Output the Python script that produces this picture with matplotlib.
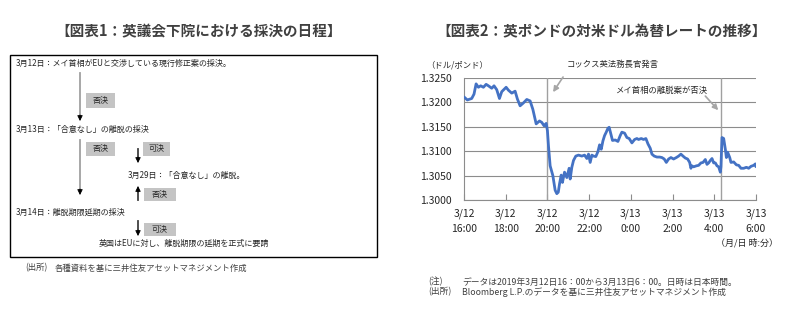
import matplotlib
matplotlib.use("Agg")
import matplotlib.pyplot as plt
from matplotlib.patches import Rectangle

plt.rcParams["font.family"] = ["Noto Sans CJK JP", "DejaVu Sans"]

# hours after 3/12 16:00 (JST) and GBP/USD rate
hours = [0.03, 0.16, 0.37, 0.48, 0.58, 0.69, 0.80, 0.93, 1.06, 1.17, 1.33, 1.44,
         1.57, 1.70, 1.81, 2.02, 2.13, 2.29, 2.45, 2.56, 2.69, 2.85, 3.01, 3.17,
         3.30, 3.46, 3.62, 3.73, 3.84, 3.94, 4.00, 4.05, 4.13, 4.26, 4.37, 4.45,
         4.52, 4.58, 4.66, 4.72, 4.82, 4.93, 5.04, 5.09, 5.17, 5.25, 5.36, 5.49,
         5.65, 5.78, 5.89, 5.97, 6.05, 6.13, 6.21, 6.32, 6.42, 6.50, 6.58, 6.66,
         6.74, 6.82, 6.90, 6.96, 7.06, 7.12, 7.25, 7.38, 7.49, 7.57, 7.70, 7.81,
         7.92, 8.05, 8.18, 8.29, 8.37, 8.50, 8.61, 8.72, 8.82, 8.93, 9.01, 9.12,
         9.25, 9.38, 9.49, 9.60, 9.70, 9.81, 9.92, 10.05, 10.18, 10.29, 10.40, 10.50,
         10.61, 10.72, 10.82, 10.88, 10.93, 11.01, 11.14, 11.25, 11.36, 11.46, 11.57,
         11.65, 11.73, 11.81, 11.89, 11.97, 12.05, 12.13, 12.21, 12.29, 12.32, 12.37,
         12.45, 12.53, 12.58, 12.64, 12.74, 12.80, 12.93, 13.06, 13.17, 13.28, 13.41,
         13.54, 13.65, 13.76, 13.89, 13.97, 14.00]
rate = [1.3210, 1.3205, 1.3208, 1.3217, 1.3238, 1.3231, 1.3234, 1.3231, 1.3237, 1.3234,
        1.3229, 1.3234, 1.3226, 1.3208, 1.3222, 1.3231, 1.3225, 1.3219, 1.3223, 1.3207,
        1.3193, 1.3199, 1.3206, 1.3203, 1.3186, 1.3156, 1.3162, 1.3159, 1.3152, 1.3157,
        1.3142, 1.3111, 1.3070, 1.3050, 1.3020, 1.3013, 1.3016, 1.3033, 1.3051, 1.3036,
        1.3057, 1.3046, 1.3065, 1.3043, 1.3067, 1.3081, 1.3090, 1.3092, 1.3090, 1.3092,
        1.3085, 1.3094, 1.3077, 1.3092, 1.3090, 1.3089, 1.3099, 1.3113, 1.3104, 1.3121,
        1.3132, 1.3139, 1.3147, 1.3149, 1.3132, 1.3122, 1.3123, 1.3120, 1.3132, 1.3139,
        1.3137, 1.3128, 1.3126, 1.3117, 1.3124, 1.3126, 1.3124, 1.3126, 1.3124, 1.3126,
        1.3115, 1.3106, 1.3094, 1.3090, 1.3088, 1.3088, 1.3087, 1.3084, 1.3077, 1.3084,
        1.3087, 1.3084, 1.3087, 1.3090, 1.3094, 1.3090, 1.3086, 1.3084, 1.3077, 1.3065,
        1.3070, 1.3068, 1.3070, 1.3071, 1.3076, 1.3077, 1.3083, 1.3073, 1.3076, 1.3081,
        1.3085, 1.3076, 1.3076, 1.3070, 1.3068, 1.3057, 1.3068, 1.3128, 1.3126, 1.3104,
        1.3087, 1.3098, 1.3087, 1.3077, 1.3078, 1.3072, 1.3071, 1.3065, 1.3065, 1.3067,
        1.3065, 1.3069, 1.3071, 1.3074, 1.3069]

x_ticks = [0, 2, 4, 6, 8, 10, 12, 14]
x_labels = ["3/12\n16:00", "3/12\n18:00", "3/12\n20:00", "3/12\n22:00",
            "3/13\n0:00", "3/13\n2:00", "3/13\n4:00", "3/13\n6:00"]
y_ticks = [1.3000, 1.3050, 1.3100, 1.3150, 1.3200, 1.3250]
events = [4.0, 12.32]

txt = "#262626"
fig = plt.figure(figsize=(7.92, 3.12), dpi=100)

# overlay in pixel coords for the diagram and notes
lay = fig.add_axes([0, 0, 1, 1])
lay.set_xlim(0, 792)
lay.set_ylim(312, 0)
lay.axis("off")

lay.text(199, 31, "【図表1：英議会下院における採決の日程】", ha="center", va="center",
         fontsize=10.5, fontweight="bold", color="#404040")
lay.text(602, 31, "【図表2：英ポンドの対米ドル為替レートの推移】", ha="center", va="center",
         fontsize=10.5, fontweight="bold", color="#404040")

lay.add_patch(Rectangle((10, 55), 367, 202, fill=False, ec="black", lw=1))

fs = 5.8
lay.text(16, 63, "3月12日：メイ首相がEUと交渉している現行修正案の採決。", fontsize=fs, color=txt, va="center")
lay.text(16, 129, "3月13日：「合意なし」の離脱の採決", fontsize=fs, color=txt, va="center")
lay.text(128, 175, "3月29日：「合意なし」の離脱。", fontsize=fs, color=txt, va="center")
lay.text(16, 212, "3月14日：離脱期限延期の採決", fontsize=fs, color=txt, va="center")
lay.text(99, 243, "英国はEUに対し、離脱期限の延期を正式に要請", fontsize=fs, color=txt, va="center")

for x0, y0, w, h, s in [(86, 93, 29, 15, "否決"), (86, 142, 29, 14, "否決"),
                        (143, 142, 27, 14, "可決"), (144, 188, 32, 13, "否決"),
                        (144, 223, 32, 13, "可決")]:
    lay.add_patch(Rectangle((x0, y0), w, h, fc="#c4c4c4", ec="none"))
    lay.text(x0 + w / 2, y0 + h / 2, s, ha="center", va="center", fontsize=fs, color=txt)


def arrow(x, y0, y1, shaft="#a0a0a0"):
    d = 1 if y1 > y0 else -1
    lay.plot([x, x], [y0, y1 - 3 * d], color=shaft, lw=1.3)
    lay.annotate("", xy=(x, y1), xytext=(x, y1 - 6 * d),
                 arrowprops=dict(arrowstyle="-|>", color="black", lw=0.6,
                                 mutation_scale=8, shrinkA=0, shrinkB=0))


arrow(80, 73, 121)
arrow(80, 140, 195)
arrow(138, 149, 163, shaft="#404040")
arrow(138, 200, 186, shaft="#404040")
arrow(138, 221, 236, shaft="#404040")

lay.text(25, 268, "(出所)", fontsize=6, color="#404040", va="center")
lay.text(55, 268, "各種資料を基に三井住友アセットマネジメント作成", fontsize=6, color="#404040", va="center")

lay.text(426, 65, "（ドル/ポンド）", fontsize=6, color=txt, va="center")
lay.text(778, 243, "（月/日 時:分）", fontsize=6.5, color=txt, va="center", ha="right")
lay.text(428, 282, "(注)", fontsize=6.3, color="#404040", va="center")
lay.text(462, 282, "データは2019年3月12日16：00から3月13日6：00。日時は日本時間。",
         fontsize=6.3, color="#404040", va="center")
lay.text(428, 292, "(出所)", fontsize=6.3, color="#404040", va="center")
lay.text(462, 292, "Bloomberg L.P.のデータを基に三井住友アセットマネジメント作成",
         fontsize=6.3, color="#404040", va="center")

# line chart
ax = fig.add_axes([464 / 792, 112 / 312, 292 / 792, 122 / 312])
ax.plot(hours, rate, color="#4472c4", lw=2, zorder=3)
for e in events:
    ax.axvline(e, color="#a0a0a0", lw=1, zorder=2)
ax.set_xlim(0, 14)
ax.set_ylim(1.3, 1.325)
ax.set_yticks(y_ticks)
ax.set_yticklabels([f"{v:.4f}" for v in y_ticks])
ax.set_xticks(x_ticks)
ax.set_xticklabels(x_labels, linespacing=1.6)
ax.yaxis.grid(True, color="#8c8c8c", lw=0.8, zorder=1)
ax.tick_params(axis="y", length=0, pad=9, labelsize=7.5, labelcolor=txt)
ax.tick_params(axis="x", direction="in", length=4, color="#8c8c8c", pad=6,
               labelsize=7.5, labelcolor=txt)
for s in ["top", "right"]:
    ax.spines[s].set_visible(False)
for s in ["left", "bottom"]:
    ax.spines[s].set_color("#8c8c8c")
    ax.spines[s].set_linewidth(0.8)

ax.annotate("", xy=(4.27, 1.3221), xytext=(4.75, 1.3252), annotation_clip=False,
            arrowprops=dict(arrowstyle="-|>", color="#a6a6a6", lw=1.2,
                            mutation_scale=8, shrinkA=0, shrinkB=0))
ax.text(4.94, 1.3277, "コックス英法務長官発言", fontsize=6, color=txt, va="center", clip_on=False)
ax.annotate("", xy=(12.19, 1.3184), xytext=(11.57, 1.3213), annotation_clip=False,
            arrowprops=dict(arrowstyle="-|>", color="#a6a6a6", lw=1.2,
                            mutation_scale=8, shrinkA=0, shrinkB=0))
ax.text(7.25, 1.3225, "メイ首相の離脱案が否決", fontsize=6, color=txt, va="center")

fig.savefig("out.png", dpi=100)
